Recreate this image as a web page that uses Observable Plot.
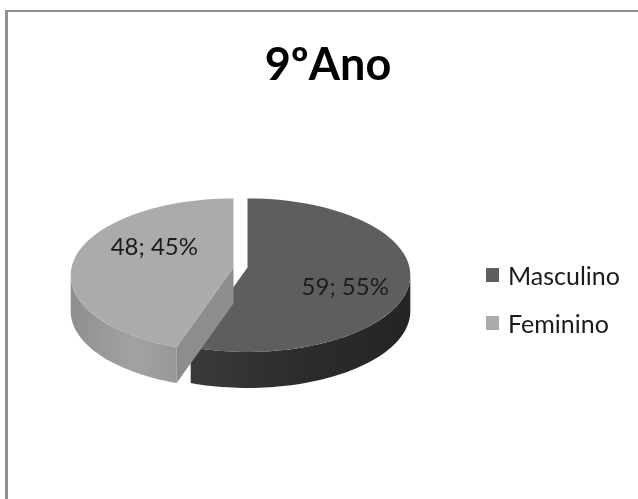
<!DOCTYPE html>
<html><head><meta charset="utf-8">
<script src="https://cdn.jsdelivr.net/npm/d3@7"></script>
<script src="https://cdn.jsdelivr.net/npm/@observablehq/plot@0.6"></script>
<style>
html,body{margin:0;padding:0;background:#fff;overflow:hidden}
#page{position:relative;width:638px;height:499px;font-family:Lato,"Open Sans",sans-serif;color:#1a1a1a;filter:blur(0.45px)}
#frame{position:absolute;left:5px;top:10px;right:-5px;bottom:-5px;border-left:3px solid #8f8f8f;border-top:2px solid #8f8f8f}
#title{position:absolute;left:9px;width:100%;top:38px;text-align:center;font-size:45px;font-weight:700;color:#000;line-height:50px}
.leg{position:absolute;left:486px;font-size:25px;line-height:28px;white-space:nowrap}
.leg i{position:absolute;left:0;top:7px;width:13px;height:14px}
.leg span{position:absolute;left:22px;top:0}
#chart{position:absolute;left:0;top:0}
</style></head><body>
<div id="page">
<div id="frame"></div>
<div id="chart"></div>
<div id="title"></div>
<div id="legend"></div>
</div>
<script>
const chartTitle = "9ºAno";
const categories = ["Masculino", "Feminino"];
const counts = [59, 48];
const percents = [55, 45];
const topColors = ["#5e5e5e", "#ababab"];

// layout of the tilted pie
const apexes = [[247, 267], [233, 267]];
const K = 162, k = 76, c = 0.10, depth = 36;
const labelNudge = [14, 19], labelRadius = [0.64, 0.57];

const arcs = d3.pie().sort(null)(counts);
const project = (slice, theta, r = 1) => {
  const d = 1 + c * r * Math.cos(theta);
  return {
    x: apexes[slice][0] + K * r * Math.sin(theta) / d,
    y: apexes[slice][1] - k * r * Math.cos(theta) / d
  };
};
const sweep = (slice, a0, a1) => d3.range(0, 61).map(i => project(slice, a0 + (a1 - a0) * i / 60));
const down = p => ({x: p.x, y: p.y + depth});
const wedge = i => [project(i, 0, 0), ...sweep(i, arcs[i].startAngle, arcs[i].endAngle)];
const band = (slice, a0, a1) => { const s = sweep(slice, a0, a1); return [...s, ...s.slice().reverse().map(down)]; };

const turn = Math.acos(-c);
const split = arcs[0].endAngle;
const apexL = project(1, 0, 0), rimL = project(1, split);
const face = [apexL, rimL, down(rimL), down(apexL)];

const labels = arcs.map((a, i) => {
  const mid = (a.startAngle + a.endAngle) / 2 + labelNudge[i] * Math.PI / 180;
  return {...project(i, mid, labelRadius[i]), text: `${counts[i]}; ${percents[i]}%`};
});

const gradient = (id, stops) => () => {
  const g = d3.create("svg:linearGradient").attr("id", id);
  stops.forEach(([o, col]) => g.append("stop").attr("offset", o).attr("stop-color", col));
  return g.node();
};
const poly = (pts, fill) => Plot.line(pts, {x: "x", y: "y", fill, stroke: "none", curve: "linear-closed"});

const plot = Plot.plot({
  width: 638, height: 499, margin: 0,
  x: {type: "identity", axis: null},
  y: {type: "identity", axis: null},
  style: {background: "transparent"},
  marks: [
    gradient("sideDark", [[0, "#3a3a3a"], [0.5, "#2c2c2c"], [1, "#242424"]]),
    gradient("sideLight", [[0, "#8f8f8f"], [0.6, "#a2a2a2"], [1, "#989898"]]),
    poly(band(0, turn, split), "url(#sideDark)"),
    poly(wedge(0), topColors[0]),
    poly(band(1, split, 2 * Math.PI - turn), "url(#sideLight)"),
    poly(face, "#8d8d8d"),
    poly(wedge(1), topColors[1]),
    Plot.text(labels, {x: "x", y: "y", text: "text", fontSize: 24, fontFamily: "Lato", fill: "#1c1c1c"})
  ]
});
document.getElementById("chart").append(plot);
document.getElementById("title").textContent = chartTitle;
const legend = document.getElementById("legend");
categories.forEach((name, i) => {
  const row = document.createElement("div");
  row.className = "leg";
  row.style.top = (261 + i * 48) + "px";
  row.innerHTML = `<i style="background:${topColors[i]}"></i><span>${name}</span>`;
  legend.append(row);
});
</script>
</body></html>
